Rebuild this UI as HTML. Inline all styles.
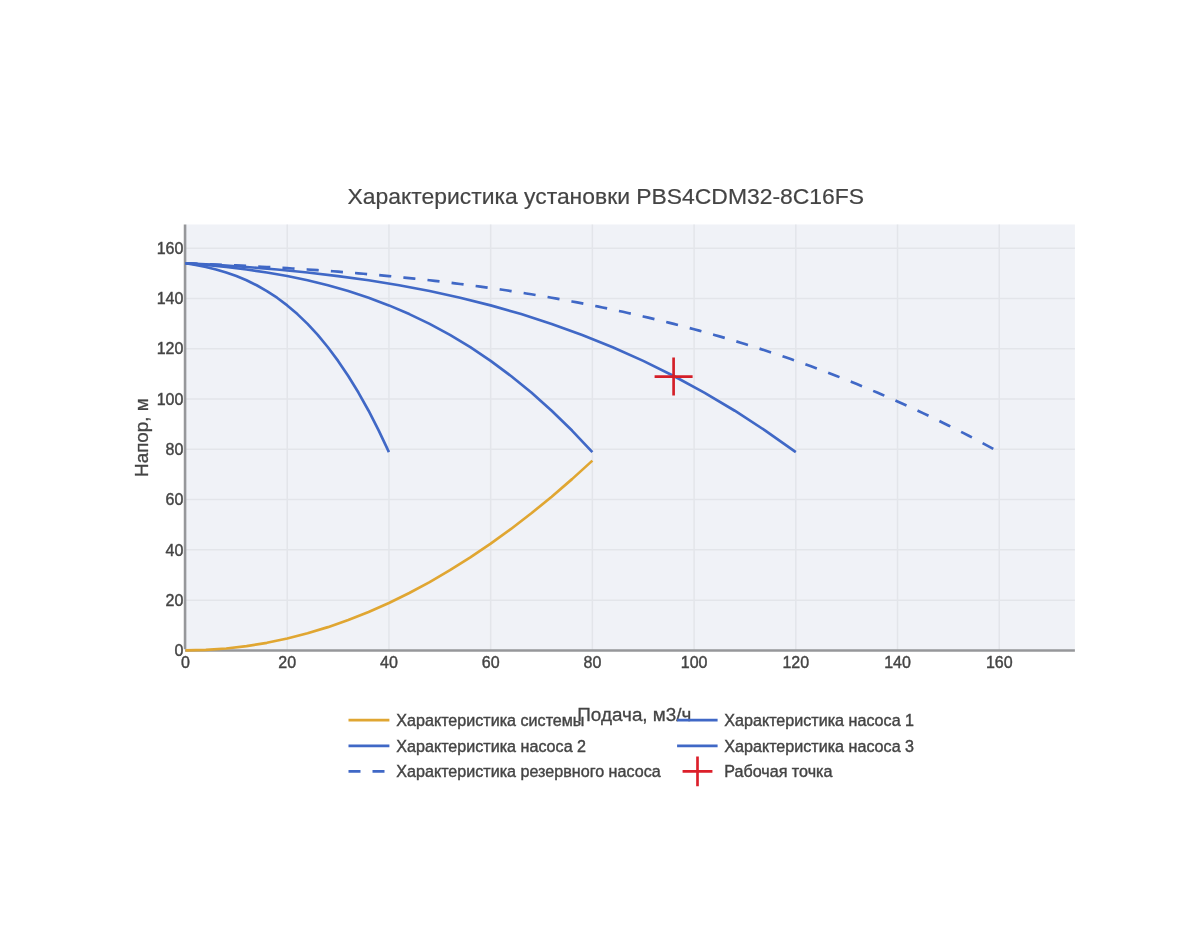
<!DOCTYPE html>
<html lang="ru"><head><meta charset="utf-8"><title>Характеристика установки PBS4CDM32-8C16FS</title>
<style>
html,body{margin:0;padding:0;background:#fff;}
body{width:1200px;height:950px;overflow:hidden;}
svg{display:block;font-family:"Liberation Sans",Arial,sans-serif;}
text{fill:#444;stroke:#444;stroke-width:0.4px;}
</style></head><body>
<svg width="1200" height="950" viewBox="0 0 1200 950">
<rect x="0" y="0" width="1200" height="950" fill="#fff"/>

<rect x="185.5" y="224.5" width="889.4000000000001" height="425.9" fill="#f0f2f7"/>
<g stroke="#e3e5ea" stroke-width="1.5" fill="none">
<path d="M287.22,224.5V650.4"/>
<path d="M388.94,224.5V650.4"/>
<path d="M490.66,224.5V650.4"/>
<path d="M592.38,224.5V650.4"/>
<path d="M694.10,224.5V650.4"/>
<path d="M795.82,224.5V650.4"/>
<path d="M897.54,224.5V650.4"/>
<path d="M999.26,224.5V650.4"/>
<path d="M185.5,600.13H1074.9"/>
<path d="M185.5,549.86H1074.9"/>
<path d="M185.5,499.58H1074.9"/>
<path d="M185.5,449.31H1074.9"/>
<path d="M185.5,399.04H1074.9"/>
<path d="M185.5,348.77H1074.9"/>
<path d="M185.5,298.50H1074.9"/>
<path d="M185.5,248.22H1074.9"/>
</g>
<g stroke="#96979a" stroke-width="2.6" fill="none">
<path d="M185.05,224.5V649.1999999999999"/>
<path d="M185.1,650.5H1074.9"/>
</g>
<g fill="none" stroke-width="2.67" stroke-linejoin="round">
<path stroke="#e0a632" d="M185.50,650.40 L205.84,649.93 L226.19,648.50 L246.53,646.13 L266.88,642.81 L287.22,638.54 L307.56,633.32 L327.91,627.15 L348.25,620.04 L368.60,611.97 L388.94,602.96 L409.28,592.99 L429.63,582.08 L449.97,570.22 L470.32,557.41 L490.66,543.65 L511.00,528.94 L531.35,513.29 L551.69,496.68 L572.04,479.13 L592.38,460.62"/>
<path stroke="#4068c6" d="M185.50,263.24 L195.67,264.94 L205.84,267.00 L216.02,269.48 L226.19,272.48 L236.36,276.05 L246.53,280.29 L256.70,285.26 L266.88,291.06 L277.05,297.74 L287.22,305.39 L297.39,314.09 L307.56,323.91 L317.74,334.93 L327.91,347.23 L338.08,360.88 L348.25,375.96 L358.42,392.56 L368.60,410.73 L378.77,430.57 L388.94,452.15"/>
<path stroke="#4068c6" d="M185.50,263.24 L205.84,264.94 L226.19,267.00 L246.53,269.48 L266.88,272.48 L287.22,276.05 L307.56,280.29 L327.91,285.26 L348.25,291.06 L368.60,297.74 L388.94,305.39 L409.28,314.09 L429.63,323.91 L449.97,334.93 L470.32,347.23 L490.66,360.88 L511.00,375.96 L531.35,392.56 L551.69,410.73 L572.04,430.57 L592.38,452.15"/>
<path stroke="#4068c6" d="M185.50,263.24 L216.02,264.94 L246.53,267.00 L277.05,269.48 L307.56,272.48 L338.08,276.05 L368.60,280.29 L399.11,285.26 L429.63,291.06 L460.14,297.74 L490.66,305.39 L521.18,314.09 L551.69,323.91 L582.21,334.93 L612.72,347.23 L643.24,360.88 L673.76,375.96 L704.27,392.56 L734.79,410.73 L765.30,430.57 L795.82,452.15"/>
<path stroke="#4068c6" stroke-dasharray="12.13,12.13" d="M185.50,263.24 L190.59,263.44 L195.67,263.64 L200.76,263.84 L205.84,264.05 L210.93,264.27 L216.02,264.49 L221.10,264.71 L226.19,264.94 L231.27,265.18 L236.36,265.42 L241.45,265.67 L246.53,265.92 L251.62,266.18 L256.70,266.45 L261.79,266.72 L266.88,267.00 L271.96,267.28 L277.05,267.58 L282.13,267.88 L287.22,268.18 L292.31,268.50 L297.39,268.82 L302.48,269.15 L307.56,269.48 L312.65,269.83 L317.74,270.18 L322.82,270.54 L327.91,270.91 L332.99,271.29 L338.08,271.68 L343.17,272.07 L348.25,272.48 L353.34,272.89 L358.42,273.31 L363.51,273.74 L368.60,274.19 L373.68,274.64 L378.77,275.10 L383.85,275.57 L388.94,276.05 L394.03,276.54 L399.11,277.05 L404.20,277.56 L409.28,278.08 L414.37,278.62 L419.46,279.16 L424.54,279.72 L429.63,280.29 L434.71,280.87 L439.80,281.46 L444.89,282.06 L449.97,282.68 L455.06,283.31 L460.14,283.95 L465.23,284.60 L470.32,285.26 L475.40,285.94 L480.49,286.63 L485.57,287.34 L490.66,288.05 L495.75,288.78 L500.83,289.53 L505.92,290.28 L511.00,291.06 L516.09,291.84 L521.18,292.64 L526.26,293.45 L531.35,294.28 L536.43,295.12 L541.52,295.98 L546.61,296.85 L551.69,297.74 L556.78,298.64 L561.86,299.56 L566.95,300.49 L572.04,301.44 L577.12,302.40 L582.21,303.38 L587.29,304.38 L592.38,305.39 L597.47,306.42 L602.55,307.46 L607.64,308.53 L612.72,309.60 L617.81,310.70 L622.90,311.81 L627.98,312.94 L633.07,314.09 L638.15,315.25 L643.24,316.44 L648.33,317.64 L653.41,318.85 L658.50,320.09 L663.58,321.34 L668.67,322.62 L673.76,323.91 L678.84,325.22 L683.93,326.55 L689.01,327.90 L694.10,329.26 L699.19,330.65 L704.27,332.06 L709.36,333.48 L714.44,334.93 L719.53,336.40 L724.62,337.88 L729.70,339.39 L734.79,340.91 L739.87,342.46 L744.96,344.03 L750.05,345.62 L755.13,347.23 L760.22,348.86 L765.30,350.51 L770.39,352.19 L775.48,353.88 L780.56,355.60 L785.65,357.34 L790.73,359.10 L795.82,360.88 L800.91,362.69 L805.99,364.51 L811.08,366.37 L816.16,368.24 L821.25,370.14 L826.34,372.05 L831.42,374.00 L836.51,375.96 L841.59,377.95 L846.68,379.97 L851.77,382.00 L856.85,384.07 L861.94,386.15 L867.02,388.26 L872.11,390.40 L877.20,392.56 L882.28,394.74 L887.37,396.95 L892.45,399.18 L897.54,401.44 L902.63,403.73 L907.71,406.03 L912.80,408.37 L917.88,410.73 L922.97,413.12 L928.06,415.53 L933.14,417.97 L938.23,420.44 L943.31,422.93 L948.40,425.45 L953.49,428.00 L958.57,430.57 L963.66,433.17 L968.74,435.80 L973.83,438.45 L978.92,441.14 L984.00,443.85 L989.09,446.59 L994.17,449.35 L999.26,452.15"/>
</g>
<path d="M673.6,357.6V395.6M654.6,376.6H692.6" stroke="#d41f28" stroke-width="2.67" fill="none"/>
<g font-size="16" text-anchor="middle">
<text x="185.5" y="667.6">0</text>
<text x="287.2" y="667.6">20</text>
<text x="388.9" y="667.6">40</text>
<text x="490.7" y="667.6">60</text>
<text x="592.4" y="667.6">80</text>
<text x="694.1" y="667.6">100</text>
<text x="795.8" y="667.6">120</text>
<text x="897.5" y="667.6">140</text>
<text x="999.3" y="667.6">160</text>
</g>
<g font-size="16" text-anchor="end">
<text x="183.4" y="656.0">0</text>
<text x="183.4" y="605.7">20</text>
<text x="183.4" y="555.5">40</text>
<text x="183.4" y="505.2">60</text>
<text x="183.4" y="454.9">80</text>
<text x="183.4" y="404.6">100</text>
<text x="183.4" y="354.4">120</text>
<text x="183.4" y="304.1">140</text>
<text x="183.4" y="253.8">160</text>
</g>
<text x="347.5" y="204" font-size="22.67" style="stroke-width:0.2px" textLength="516.5" lengthAdjust="spacingAndGlyphs">Характеристика установки PBS4CDM32-8C16FS</text>
<text x="577.3" y="720.7" font-size="18.89" style="stroke-width:0.3px">Подача, м3/ч</text>
<text transform="translate(148.0,437.6) rotate(-90)" text-anchor="middle" font-size="18.82" style="stroke-width:0.3px">Напор, м</text>
<g fill="none" stroke-width="2.67">
<path stroke="#e0a632" d="M348.5,720.1H389.4"/>
<path stroke="#4068c6" d="M348.5,745.8H389.4"/>
<path stroke="#4068c6" stroke-dasharray="12,12" d="M348.5,771.4H389.4"/>
<path stroke="#4068c6" d="M677.1,720.1H717.6"/>
<path stroke="#4068c6" d="M677.1,745.8H717.6"/>
<path stroke="#dc1f2a" d="M697.5,756.47V786.3299999999999M682.57,771.4H712.43"/>
</g>
<g font-size="16.12">
<text x="396.3" y="726.1">Характеристика системы</text>
<text x="396.3" y="751.8">Характеристика насоса 2</text>
<text x="396.3" y="777.4">Характеристика резервного насоса</text>
<text x="724.3" y="726.1">Характеристика насоса 1</text>
<text x="724.3" y="751.8">Характеристика насоса 3</text>
<text x="724.3" y="777.4">Рабочая точка</text>
</g>
</svg></body></html>
